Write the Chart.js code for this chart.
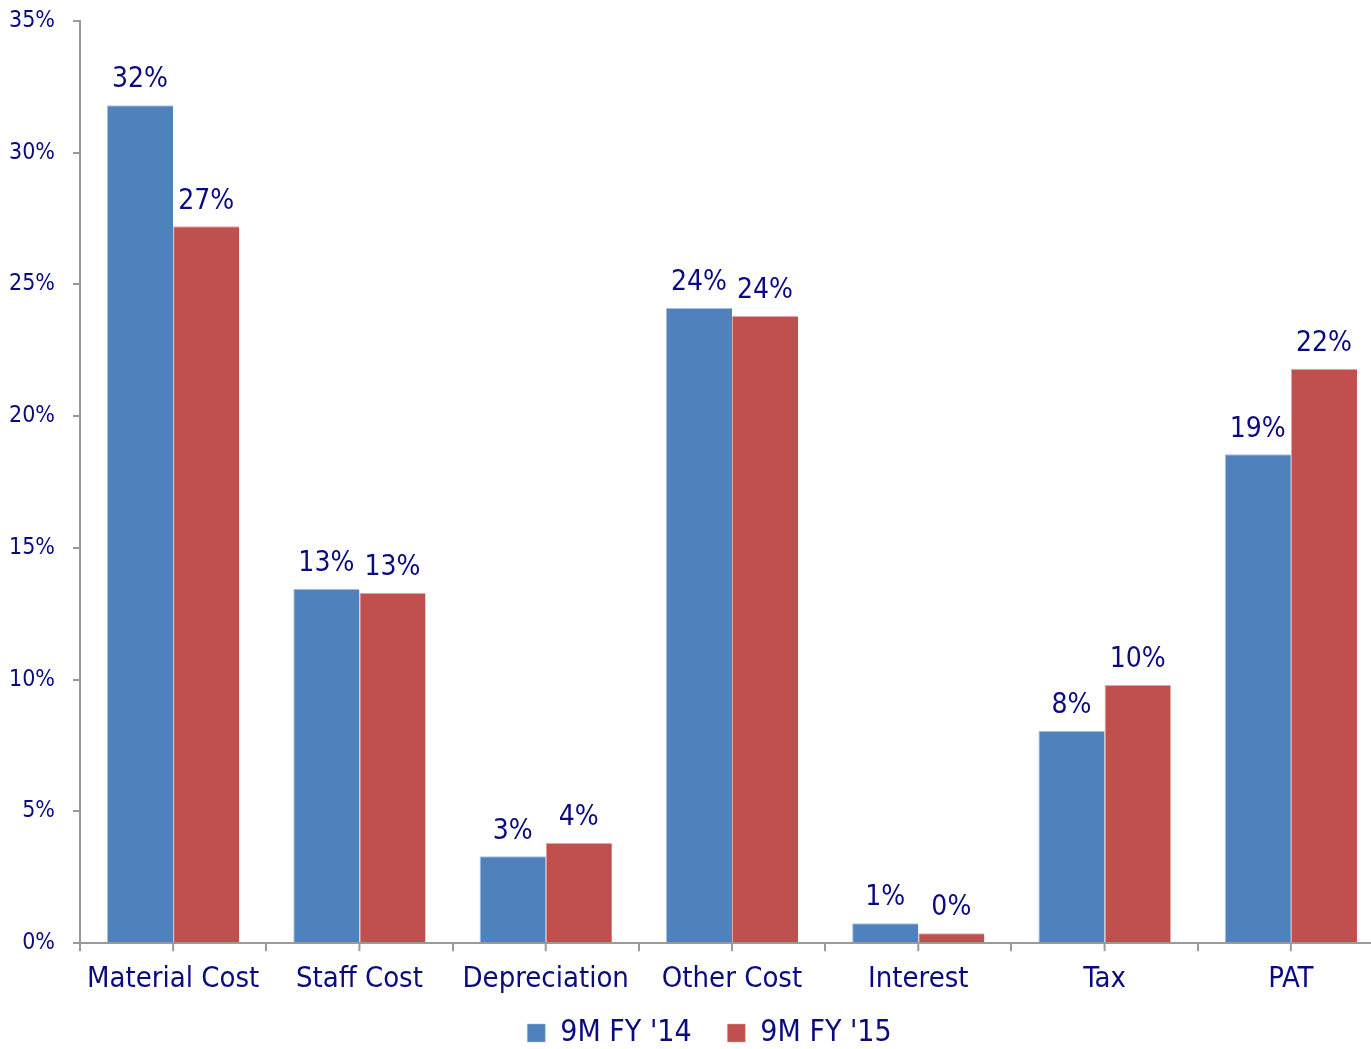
<!DOCTYPE html>
<html>
<head>
<meta charset="utf-8">
<script src="https://cdn.jsdelivr.net/npm/chart.js@4"></script>
<style>
  html, body { margin: 0; padding: 0; background: #fff; overflow: hidden; }
  #wrap { width: 1415px; height: 1060px; margin-top: -11px; }
</style>
</head>
<body>
<div id="wrap"><canvas id="costChart" width="1415" height="1060"></canvas></div>
<script>
var categories = ['Material Cost', 'Staff Cost', 'Depreciation', 'Other Cost', 'Interest', 'Tax', 'PAT'];
var fy14 = [31.8, 13.45, 3.3, 24.1, 0.76, 8.06, 18.55];
var fy15 = [27.2, 13.3, 3.8, 23.8, 0.38, 9.8, 21.8];
var yTicks = [0, 5, 10, 15, 20, 25, 30, 35];

var textColor = '#0b0b80';
var axisColor = '#9a9a9a';
var fontFamily = '"DejaVu Sans Condensed", "DejaVu Sans", sans-serif';

// values above each bar
var barLabels = {
    id: 'barLabels',
    afterDatasetsDraw: function(chart) {
        var ctx = chart.ctx;
        ctx.save();
        ctx.fillStyle = textColor;
        ctx.font = '28px ' + fontFamily;
        ctx.textAlign = 'center';
        ctx.textBaseline = 'bottom';
        chart.data.datasets.forEach(function(ds, i) {
            chart.getDatasetMeta(i).data.forEach(function(bar, j) {
                ctx.fillText(Math.round(ds.data[j]) + '%', bar.x, bar.y - 11);
            });
        });
        ctx.restore();
    }
};

// small marks under the axis at each category centre
var centreTicks = {
    id: 'centreTicks',
    afterDraw: function(chart) {
        var x = chart.scales.x, ctx = chart.ctx;
        ctx.save();
        ctx.strokeStyle = axisColor;
        ctx.lineWidth = 2;
        for (var i = 0; i < categories.length; i++) {
            var px = x.getPixelForTick(i);
            ctx.beginPath();
            ctx.moveTo(px, x.top);
            ctx.lineTo(px, x.top + 8);
            ctx.stroke();
        }
        ctx.restore();
    }
};

// nudge the legend to the right, under the plot centre
var legendShift = {
    id: 'legendShift',
    afterLayout: function(chart) {
        chart.legend.left += 22;
        chart.legend.right += 22;
    }
};

var ctx = document.getElementById('costChart').getContext('2d');
new Chart(ctx, {
    type: 'bar',
    data: {
        labels: categories,
        datasets: [{
            label: "9M FY '14",
            data: fy14,
            backgroundColor: '#4f81bd',
            borderColor: '#a9c1e0',
            borderWidth: { top: 1, left: 1, right: 0, bottom: 0 }
        }, {
            label: "9M FY '15",
            data: fy15,
            backgroundColor: '#c0504d',
            borderColor: '#e0a8a6',
            borderWidth: { top: 1, left: 1, right: 0, bottom: 0 }
        }]
    },
    options: {
        responsive: false,
        animation: false,
        layout: { padding: { top: -9, left: -9, right: 31, bottom: -9 } },
        datasets: { bar: { categoryPercentage: 0.71, barPercentage: 1 } },
        plugins: {
            legend: {
                position: 'bottom',
                labels: {
                    color: textColor,
                    font: { family: fontFamily, size: 30 },
                    boxWidth: 18,
                    boxHeight: 18,
                    padding: 10,
                    generateLabels: function(chart) {
                        var items = Chart.defaults.plugins.legend.labels.generateLabels(chart);
                        // wider gap between the two entries
                        for (var i = 0; i < items.length - 1; i++) items[i].text += '   ';
                        return items;
                    }
                }
            },
            tooltip: { enabled: false }
        },
        scales: {
            x: {
                grid: {
                    offset: true,
                    drawOnChartArea: false,
                    color: axisColor,
                    lineWidth: 2,
                    tickLength: 8
                },
                border: { color: axisColor, width: 2 },
                ticks: {
                    color: textColor,
                    font: { family: fontFamily, size: 29 },
                    padding: 11,
                    maxRotation: 0
                }
            },
            y: {
                min: 0,
                max: 35,
                afterBuildTicks: function(scale) {
                    scale.ticks = yTicks.map(function(v) { return { value: v }; });
                },
                grid: {
                    drawOnChartArea: false,
                    color: axisColor,
                    lineWidth: 2,
                    tickLength: 7
                },
                border: { color: axisColor, width: 2 },
                ticks: {
                    color: textColor,
                    font: { family: fontFamily, size: 23 },
                    padding: 18,
                    callback: function(v) { return v + '%'; }
                }
            }
        }
    },
    plugins: [barLabels, centreTicks, legendShift]
});
</script>
</body>
</html>
